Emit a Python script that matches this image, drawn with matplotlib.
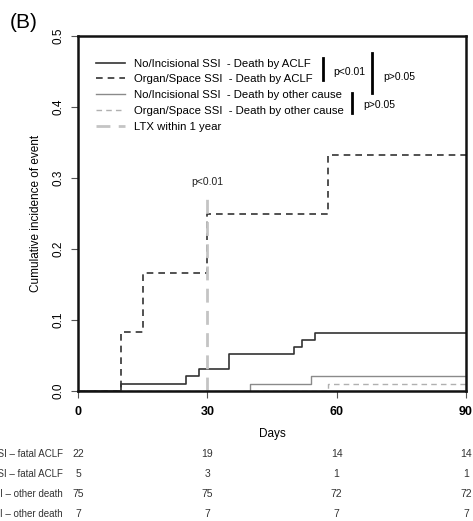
import matplotlib
matplotlib.use("Agg")
import matplotlib.pyplot as plt
from matplotlib.lines import Line2D
from matplotlib.transforms import blended_transform_factory

plt.rcParams["font.family"] = ["Liberation Sans", "DejaVu Sans"]

# cumulative incidence step curves (days, value)
aclf_noinc_t = [0, 10, 25, 28, 35, 50, 52, 55, 90]
aclf_noinc_y = [0, 0.0103, 0.0206, 0.031, 0.0515, 0.062, 0.072, 0.082, 0.082]

aclf_org_t = [0, 10, 15, 30, 58, 90]
aclf_org_y = [0, 0.083, 0.167, 0.25, 0.333, 0.333]

other_noinc_t = [0, 40, 54, 90]
other_noinc_y = [0, 0.0103, 0.0206, 0.0206]

other_org_t = [0, 58, 90]
other_org_y = [0, 0.0103, 0.0103]

ltx_day = 30
ltx_top = 0.279

# numbers at risk
risk_days = [0, 30, 60, 90]
risk_labels = ["No/Incisional SSI \u2013 fatal ACLF", "Organ/Space SSI \u2013 fatal ACLF",
               "No/Incisional SSI \u2013 other death", "Organ/Space SSI \u2013 other death"]
risk_counts = [[22, 19, 14, 14],
               [5, 3, 1, 1],
               [75, 75, 72, 72],
               [7, 7, 7, 7]]

legend_labels = ["No/Incisional SSI  - Death by ACLF",
                 "Organ/Space SSI  - Death by ACLF",
                 "No/Incisional SSI  - Death by other cause",
                 "Organ/Space SSI  - Death by other cause",
                 "LTX within 1 year"]

dark = "#333333"
mid = "#8a8a8a"
light = "#b0b0b0"
ltx_col = "#c4c4c4"

fig = plt.figure(figsize=(4.73, 5.21), dpi=100)
ax = fig.add_axes([0.165, 0.2495, 0.820, 0.681])

ax.step(aclf_noinc_t, aclf_noinc_y, where="post", color=dark, lw=1.2)
ax.step(aclf_org_t, aclf_org_y, where="post", color=dark, lw=1.2, dashes=(4, 3))
ax.step(other_noinc_t, other_noinc_y, where="post", color=mid, lw=1.0)
ax.step(other_org_t, other_org_y, where="post", color=light, lw=1.0, dashes=(4, 3))
ax.plot([ltx_day, ltx_day], [0, ltx_top], color=ltx_col, lw=2, dashes=(5, 3))
ax.text(ltx_day, ltx_top + 0.008, "p<0.01", ha="center", va="bottom", fontsize=7.5, color="#222222")

ax.set_xlim(0, 90)
ax.set_ylim(0, 0.5)
ax.set_xticks(risk_days)
ax.set_xticklabels([str(d) for d in risk_days], fontweight="bold", fontsize=9)
ax.set_yticks([0, 0.1, 0.2, 0.3, 0.4, 0.5])
ax.set_yticklabels(["0.0", "0.1", "0.2", "0.3", "0.4", "0.5"], rotation=90, va="center", fontsize=8.5)
ax.tick_params(axis="x", length=5, width=0.8, color="#555555", pad=6)
ax.tick_params(axis="y", length=5, width=0.8, color="#555555", pad=5)
for s in ax.spines.values():
    s.set_linewidth(1.8)
    s.set_color("#111111")
ax.set_xlabel("Days", fontsize=8.5, labelpad=7)
ax.set_ylabel("Cumulative incidence of event", fontsize=8.5, labelpad=7)

handles = [Line2D([], [], color=dark, lw=1.2),
           Line2D([], [], color=dark, lw=1.2, dashes=(4, 3)),
           Line2D([], [], color=mid, lw=1.0),
           Line2D([], [], color=light, lw=1.0, dashes=(4, 3)),
           Line2D([], [], color=ltx_col, lw=2, dashes=(5, 3))]
ax.legend(handles, legend_labels, loc="upper left", bbox_to_anchor=(0.035, 0.95),
          frameon=False, fontsize=8.2, handlelength=2.55, handletextpad=0.8,
          labelspacing=0.52, borderaxespad=0)

# significance brackets
ax.plot([0.631, 0.631], [0.876, 0.938], transform=ax.transAxes, color="black", lw=2)
ax.text(0.657, 0.899, "p<0.01", transform=ax.transAxes, fontsize=7.5, va="center")
ax.plot([0.758, 0.758], [0.839, 0.952], transform=ax.transAxes, color="black", lw=2)
ax.text(0.786, 0.885, "p>0.05", transform=ax.transAxes, fontsize=7.5, va="center")
ax.plot([0.706, 0.706], [0.783, 0.839], transform=ax.transAxes, color="black", lw=2)
ax.text(0.735, 0.806, "p>0.05", transform=ax.transAxes, fontsize=7.5, va="center")

# risk table
trans = blended_transform_factory(ax.transData, fig.transFigure)
row_y = [0.1286, 0.0902, 0.0518, 0.0134]
for lab, counts, yy in zip(risk_labels, risk_counts, row_y):
    fig.text(63 / 473, yy, lab, ha="right", va="center", fontsize=7, color="#333333")
    for d, c in zip(risk_days, counts):
        ax.text(d, yy, str(c), transform=trans, ha="center", va="center",
                fontsize=7.5, color="#333333", clip_on=False)

fig.text(0.02, 0.957, "(B)", fontsize=15, va="center", ha="left")

fig.savefig("out.png", dpi=100)
